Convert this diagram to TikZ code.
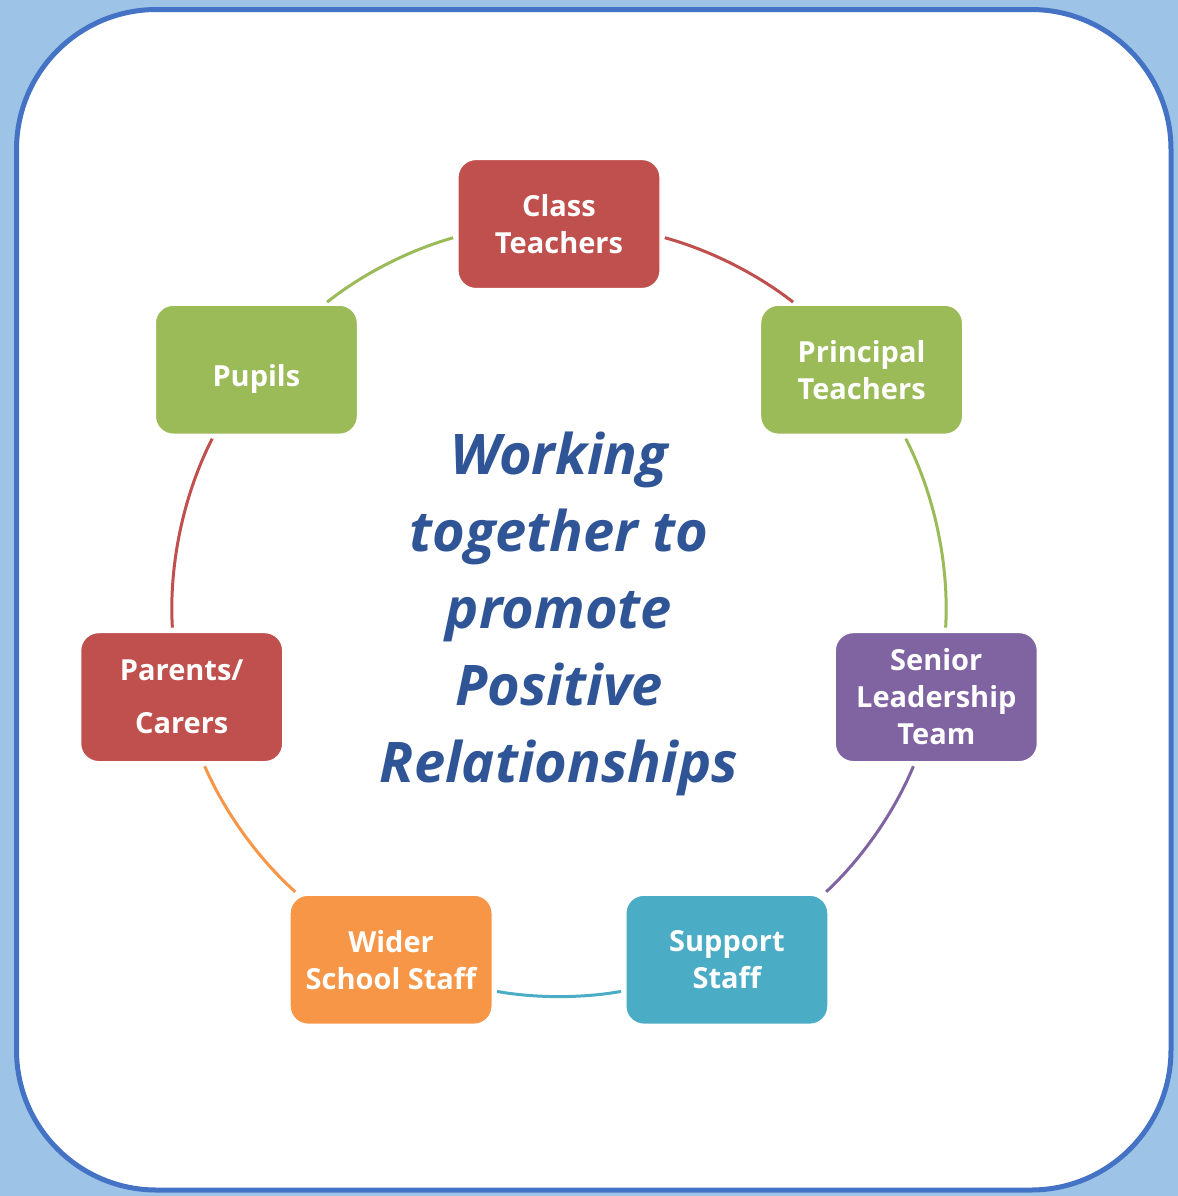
\documentclass[tikz,border=0pt]{standalone}
\usepackage{fontspec}
\setmainfont{Open Sans}

\definecolor{sky}{HTML}{9DC3E6}
\definecolor{rimblue}{HTML}{4472C4}
\definecolor{ink}{HTML}{2F5597}
\definecolor{redbox}{HTML}{C0504D}
\definecolor{greenbox}{HTML}{9BBB59}
\definecolor{purplebox}{HTML}{8064A2}
\definecolor{tealbox}{HTML}{4BACC6}
\definecolor{orangebox}{HTML}{F79646}

\begin{document}
\begin{tikzpicture}[x=0.5pt, y=-0.5pt,
  member/.style={rectangle, rounded corners=9pt, draw=white, line width=0.6pt,
    minimum width=101pt, minimum height=64.5pt, inner sep=2pt, outer sep=0pt,
    align=center, text=white, font=\fontsize{14.5}{18.5}\selectfont\bfseries},
  ring/.style={line width=1.5pt, shorten >=2.5pt, shorten <=2.5pt}]

\useasboundingbox (0,0) rectangle (1178,1196);
\fill[sky] (0,0) rectangle (1178,1196);
\draw[rimblue, line width=2.5pt, fill=white, rounded corners=70pt] (16.5,9.5) rectangle (1171,1190);

% the seven groups round the ring
\node[member, fill=redbox] (ct) at (559,224) {Class\\Teachers};
\node[member, fill=greenbox] (pt) at (861.6,369.7) {Principal\\Teachers};
\node[member, fill=purplebox] (slt) at (936.3,697.1) {Senior\\Leadership\\Team};
\node[member, fill=tealbox] (sup) at (726.9,959.7) {Support\\Staff};
\node[member, fill=orangebox] (wss) at (391.1,959.7) {Wider\\School Staff};
\node[member, fill=redbox] (pc) at (181.7,697.1) {Parents/\\[8pt]Carers};
\node[member, fill=greenbox, text height=17pt, text depth=0pt] (pup) at (256.4,369.7) {Pupils};

\node[text=ink, align=center, font=\fontsize{28}{38.5}\selectfont\bfseries\itshape] (theme) at (559,614)
  {Working\\together to\\promote\\Positive\\Relationships};

% arcs of the circle, each in the colour of the box it leaves
\draw[ring, redbox] (ct.-7.6) to[bend left=11.3, looseness=0.86] (pt.135.4);
\draw[ring, greenbox] (pt.-57.1) to[bend left=15.2, looseness=0.86] (slt.82);
\draw[ring, purplebox] (slt.252.1) to[bend left=12.2, looseness=0.86] (sup.34.2);
\draw[ring, tealbox] (sup.197.8) to[bend left=9.95, looseness=0.86] (wss.-17.8);
\draw[ring, orangebox] (wss.145.8) to[bend left=12.2, looseness=0.86] (pc.-72.1);
\draw[ring, redbox] (pc.98) to[bend left=15.2, looseness=0.86] (pup.237.1);
\draw[ring, greenbox] (pup.44.6) to[bend left=11.3, looseness=0.86] (ct.187.6);

\end{tikzpicture}
\end{document}
